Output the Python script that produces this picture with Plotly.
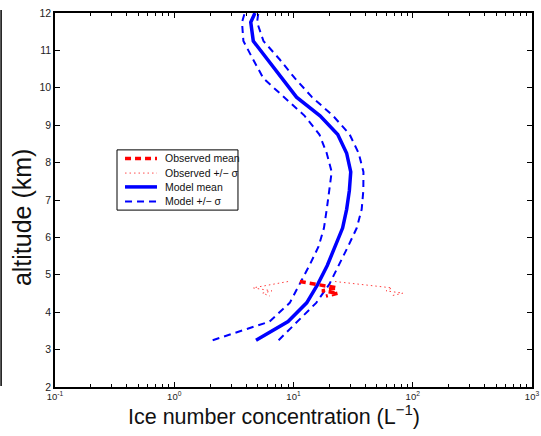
import plotly.graph_objects as go

# Model profile levels (km) and ice number concentrations (per litre)
alt_model = [3.25, 3.75, 4.25, 4.75, 5.25, 5.75, 6.25, 6.75, 7.25, 7.75,
             8.25, 8.75, 9.25, 9.75, 10.25, 10.75, 11.25, 11.75, 12.0]
model_mean = [4.85, 9.0, 12.9, 16.0, 19.2, 22.3, 25.8, 27.9, 29.4, 30.2,
              27.9, 23.5, 16.7, 10.6, 8.0, 6.1, 4.6, 4.38, 4.75]
model_lo = [2.1, 6.3, 9.3, 11.3, 13.6, 16.2, 18.0, 19.0, 20.0, 20.9,
            19.0, 16.5, 12.4, 8.3, 5.6, 4.6, 3.8, 3.7, 3.9]
model_hi = [7.5, 10.8, 15.5, 20.0, 24.0, 28.6, 33.9, 37.3, 38.5, 38.6,
            35.2, 29.6, 21.5, 14.3, 10.3, 7.7, 5.6, 4.95, 5.07]

# Aircraft observations
alt_obs = [4.82, 4.65, 4.57, 4.51, 4.43]
obs_mean = [11.3, 23.2, 17.3, 23.6, 18.7]
obs_lo = [9.0, 4.57, 6.6, 5.5, 6.35]
obs_hi = [22.3, 67.0, 59.7, 82.8, 64.4]

x_ticks = [0.1, 1, 10, 100, 1000]
x_ticktext = ["10<sup>-1</sup>", "10<sup>0</sup>", "10<sup>1</sup>",
              "10<sup>2</sup>", "10<sup>3</sup>"]
y_ticks = list(range(2, 13))
minor_x = [m * 10 ** e for e in range(-1, 3) for m in range(2, 10)]

x_title = "Ice number concentration (L<sup>\u22121</sup>)"
y_title = "altitude (km)"
legend_labels = ["Observed mean", "Observed +/\u2212 \u03c3",
                 "Model mean", "Model +/\u2212 \u03c3"]

RED = "#ff0000"
BLUE = "#0000ff"
FONT = "Liberation Sans, Arial, sans-serif"

fig = go.Figure()

fig.add_trace(go.Scatter(x=obs_lo, y=alt_obs, mode="lines",
                         line=dict(color=RED, width=1, dash="1.5px,3px"),
                         opacity=0.75, showlegend=False))
fig.add_trace(go.Scatter(x=obs_hi, y=alt_obs, mode="lines",
                         line=dict(color=RED, width=1, dash="1.5px,3px"),
                         opacity=0.75, showlegend=False))
fig.add_trace(go.Scatter(x=model_lo, y=alt_model, mode="lines",
                         line=dict(color=BLUE, width=2, dash="7px,5px"),
                         showlegend=False))
fig.add_trace(go.Scatter(x=model_hi, y=alt_model, mode="lines",
                         line=dict(color=BLUE, width=2, dash="7px,5px"),
                         showlegend=False))
fig.add_trace(go.Scatter(x=model_mean, y=alt_model, mode="lines",
                         line=dict(color=BLUE, width=3.5),
                         showlegend=False))
fig.add_trace(go.Scatter(x=obs_mean, y=alt_obs, mode="lines",
                         line=dict(color=RED, width=3.5, dash="6px,4px"),
                         showlegend=False))

# Legend drawn in paper coordinates
shapes = [
    dict(type="rect", xref="paper", yref="paper", x0=0.130, x1=0.3836,
         y0=0.473, y1=0.634, line=dict(color="black", width=1),
         fillcolor="white", layer="above"),
    # stray frame edge at the far left of the page
    dict(type="line", xref="paper", yref="paper", x0=-0.113, x1=-0.113,
         y0=0.003, y1=1.008, line=dict(color="black", width=1.5)),
]
leg_styles = [
    dict(color=RED, width=3.5, dash="6px,4px"),
    dict(color="rgba(255,0,0,0.7)", width=1, dash="1.5px,3px"),
    dict(color=BLUE, width=3.5),
    dict(color=BLUE, width=2, dash="7px,5px"),
]
leg_rows = [0.611, 0.572, 0.535, 0.496]
annotations = []
for yy, st, lab in zip(leg_rows, leg_styles, legend_labels):
    shapes.append(dict(type="line", xref="paper", yref="paper",
                       x0=0.1468, x1=0.2138, y0=yy, y1=yy, line=st,
                       layer="above"))
    annotations.append(dict(xref="paper", yref="paper", x=0.2264, y=yy,
                            text=lab, showarrow=False, xanchor="left",
                            yanchor="middle",
                            font=dict(family=FONT, size=10.5, color="#111")))

# Axis titles
annotations.append(dict(xref="paper", yref="paper", x=0.460, y=-0.074,
                        text=x_title, showarrow=False, xanchor="center",
                        yanchor="middle",
                        font=dict(family=FONT, size=21.5, color="#111")))
annotations.append(dict(xref="paper", yref="paper", x=-0.069, y=0.4545,
                        text=y_title, showarrow=False, textangle=-90,
                        xanchor="center", yanchor="middle",
                        font=dict(family=FONT, size=25, color="#111")))

axis_common = dict(showline=True, linecolor="black", linewidth=1.5,
                   mirror="allticks", ticks="inside", tickcolor="black",
                   showgrid=False, zeroline=False, automargin=False)

fig.update_layout(
    width=541, height=436,
    margin=dict(l=55, r=9, t=13, b=49),
    paper_bgcolor="white", plot_bgcolor="white",
    font=dict(family=FONT, color="#222"),
    shapes=shapes, annotations=annotations,
    xaxis=dict(type="log", range=[-1, 3], tickmode="array",
               tickvals=x_ticks, ticktext=x_ticktext, ticklen=5,
               tickfont=dict(size=9.5, color="#222"),
               minor=dict(ticks="inside", ticklen=3, tickcolor="black",
                          tickmode="array", tickvals=minor_x),
               **axis_common),
    yaxis=dict(range=[2, 12], tickmode="array", tickvals=y_ticks,
               ticklen=5, tickfont=dict(size=10.5, color="#222"),
               **axis_common),
)

fig.write_html("out.html")
